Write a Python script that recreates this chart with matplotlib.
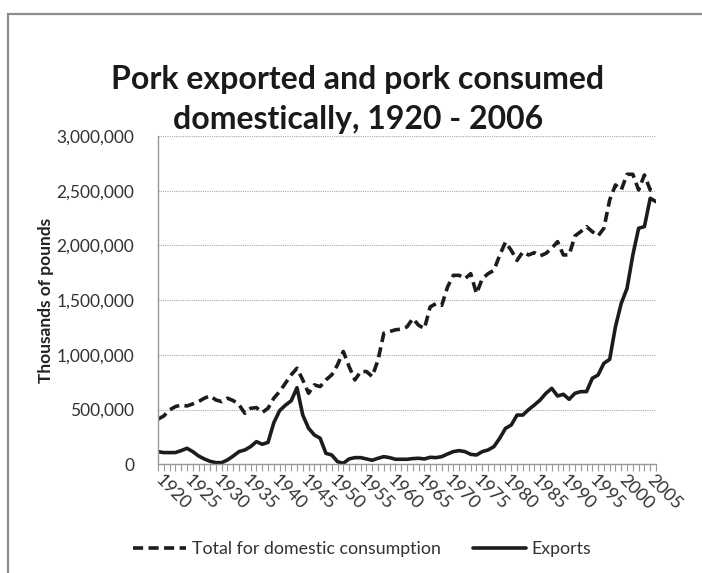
import matplotlib.pyplot as plt
from matplotlib.patches import Rectangle
from matplotlib.ticker import FuncFormatter, MultipleLocator, FixedLocator
import numpy as np

plt.rcParams["font.family"] = ["Lato", "DejaVu Sans"]

# Thousands of pounds, one value per year 1920-2006
years = list(range(1920, 2007))

domestic = [
    412, 442, 497, 527, 543, 533, 552, 573, 604, 625,
    588, 573, 604, 582, 543, 466, 512, 518, 473, 512,
    604, 665, 741, 817, 878, 771, 649, 726, 710, 771,
    817, 909, 1031, 893, 771, 848, 848, 802, 954, 1198,
    1213, 1229, 1235, 1256, 1332, 1271, 1240, 1438, 1468, 1453,
    1620, 1727, 1727, 1696, 1742, 1560, 1696, 1742, 1772, 1909,
    2030, 1955, 1863, 1940, 1913, 1934, 1904, 1928, 1974, 2035,
    1913, 1913, 2087, 2126, 2172, 2126, 2087, 2157, 2415, 2553,
    2507, 2650, 2650, 2507, 2644, 2507, 2492,
]

exports = [
    116, 107, 107, 107, 125, 146, 116, 76, 49, 27,
    15, 15, 40, 76, 116, 131, 162, 207, 183, 200,
    380, 490, 540, 580, 700, 450, 330, 268, 238, 100,
    85, 24, 9, 49, 61, 61, 49, 37, 55, 70,
    61, 46, 46, 46, 52, 55, 49, 64, 61, 70,
    94, 116, 125, 116, 91, 85, 116, 131, 161, 237,
    328, 359, 450, 450, 500, 542, 588, 649, 694, 624,
    640, 594, 649, 664, 664, 786, 816, 923, 959, 1258,
    1471, 1608, 1913, 2157, 2172, 2431, 2400,
]

label_years = list(range(1920, 2006, 5))

domestic = np.array(domestic) * 1000
exports = np.array(exports) * 1000
x = np.arange(len(years))

fig = plt.figure(figsize=(7.02, 5.73), dpi=100)
ax = fig.add_axes([158 / 702, 1 - 464.3 / 573, (656 - 158) / 702, (464.3 - 136) / 573])

ink = "#1c1c1c"
ax.plot(x, domestic, color=ink, lw=2.6, linestyle=(0, (2.8, 1.5)),
        dash_capstyle="butt", solid_joinstyle="round",
        label="Total for domestic consumption")
ax.plot(x, exports, color=ink, lw=2.6, solid_joinstyle="round",
        solid_capstyle="round", label="Exports")

ax.set_xlim(0, len(years) - 1)
ax.set_ylim(0, 3_000_000)
ax.yaxis.set_major_locator(MultipleLocator(500_000))
ax.yaxis.set_major_formatter(FuncFormatter(lambda v, p: f"{int(v):,}"))
ax.grid(axis="y", color="#a8a8a8", linestyle=(0, (1, 1)), lw=0.8)
ax.set_axisbelow(True)

for side in ("top", "right"):
    ax.spines[side].set_visible(False)
for side in ("left", "bottom"):
    ax.spines[side].set_color("#999999")
    ax.spines[side].set_linewidth(1.0)

ax.tick_params(axis="y", length=0, pad=17, labelsize=12.5, labelcolor="#333333")
ax.xaxis.set_major_locator(FixedLocator(x))
ax.tick_params(axis="x", which="major", length=5, width=0.8, color="#999999",
               labelbottom=False)
for yr in label_years:
    ax.text(years.index(yr), -0.04, str(yr), transform=ax.get_xaxis_transform(),
            rotation=-45, rotation_mode="anchor", ha="left", va="center",
            fontsize=13, color="#333333")

ax.set_ylabel("Thousands of pounds", fontsize=12.5, fontweight="bold",
              color="#222222", labelpad=2)

fig.text(358 / 702, 1 - 79 / 573, "Pork exported and pork consumed",
         ha="center", va="center", fontsize=23, fontweight="bold", color="#1a1a1a")
fig.text(358 / 702, 1 - 120 / 573, "domestically, 1920 - 2006",
         ha="center", va="center", fontsize=23, fontweight="bold", color="#1a1a1a")

handles, labels = ax.get_legend_handles_labels()
fig.legend(handles, labels, loc="center", bbox_to_anchor=(362 / 702, 1 - 549 / 573),
           ncol=2, frameon=False, fontsize=12.8, handlelength=3.0,
           handletextpad=0.3, columnspacing=1.8, labelcolor="#333333")

# chart-area border (runs past the right and bottom edges)
fig.add_artist(Rectangle((8 / 702, -0.1), 1.2, 1 - 13.5 / 573 + 0.1,
                         transform=fig.transFigure, fill=False,
                         edgecolor="#8c8c8c", lw=1.6))

fig.savefig("out.png", dpi=100)
